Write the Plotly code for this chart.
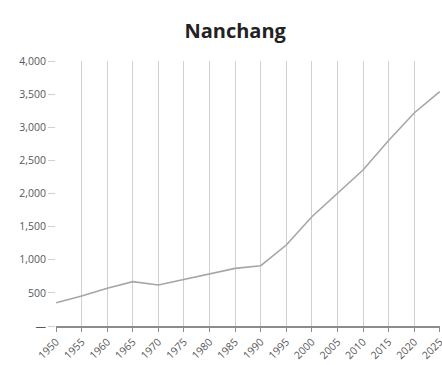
import plotly.graph_objects as go

years = [1950, 1955, 1960, 1965, 1970, 1975, 1980, 1985, 1990, 1995,
         2000, 2005, 2010, 2015, 2020, 2025]
population = [352, 453, 569, 669, 619, 700, 785, 870, 910, 1222,
              1650, 2000, 2355, 2800, 3215, 3537]
y_tickvals = [0, 500, 1000, 1500, 2000, 2500, 3000, 3500, 4000]
y_ticktext = ["—", "500", "1,000", "1,500", "2,000", "2,500", "3,000", "3,500", "4,000"]
x_tickvals = years
x_ticktext = [str(y) for y in years]

fig = go.Figure()
fig.add_trace(go.Scatter(x=years, y=population, mode="lines",
                         line=dict(color="#a6a6a6", width=1.6),
                         showlegend=False, hoverinfo="skip"))

fig.update_layout(
    width=442, height=365,
    margin=dict(l=56, r=2, t=61, b=39),
    paper_bgcolor="white", plot_bgcolor="white",
    title=dict(text="<b>Nanchang</b>", x=0.532, xanchor="center", y=0.915, yanchor="middle",
               font=dict(family="Open Sans", size=20, color="#222222")),
    font=dict(family="Open Sans", color="#595959"),
)
fig.update_xaxes(range=[1949.98, 2025.05], tickvals=x_tickvals, ticktext=x_ticktext,
                 tickangle=-45, tickfont=dict(size=10.5, color="#595959"),
                 ticklabeloverflow="allow", automargin=False,
                 showgrid=True, gridcolor="#d0d0d0", gridwidth=1,
                 showline=True, linecolor="#8c8c8c", linewidth=1.5,
                 ticks="outside", ticklen=4, tickcolor="#8c8c8c",
                 zeroline=False, mirror=False)
fig.update_yaxes(range=[0, 4000], tickvals=y_tickvals, ticktext=y_ticktext,
                 tickfont=dict(size=10.5, color="#595959"), automargin=False,
                 showgrid=False, zeroline=False, showline=False,
                 ticks="outside", ticklen=7, tickcolor="#d0d0d0")

fig.write_html("out.html")
